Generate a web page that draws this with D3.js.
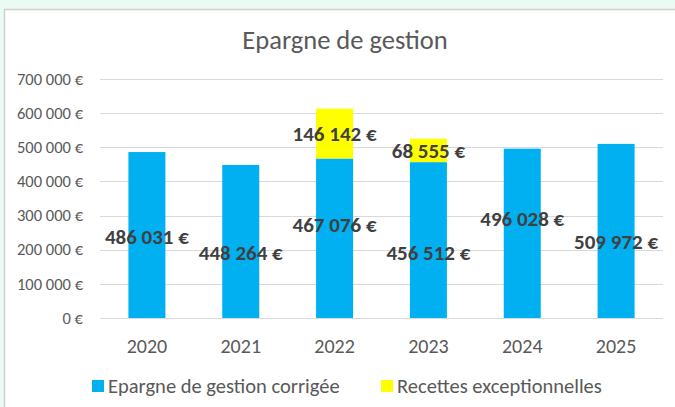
<!DOCTYPE html>
<html>
<head>
<meta charset="utf-8">
<script src="https://cdn.jsdelivr.net/npm/d3@7"></script>
<style>
  body { margin: 0; background: #e9fbf3; }
  svg { display: block; }
</style>
</head>
<body>
<svg id="chart" width="675" height="407"></svg>
<script>
// chart values
var years = ['2020', '2021', '2022', '2023', '2024', '2025'];
var epargneCorrigee = [486031, 448264, 467076, 456512, 496028, 509972];
var recettesExcept = [0, 0, 146142, 68555, 0, 0];
// where the base labels sit (in euros, as placed in the original)
var labelAt = [237000, 190000, 272000, 190000, 290000, 223000];
var yTicks = [0, 100000, 200000, 300000, 400000, 500000, 600000, 700000];
var seriesNames = ['Epargne de gestion corrigée', 'Recettes exceptionnelles'];
var seriesColors = ['#00b0f0', '#ffff00'];

var font = 'Carlito, Calibri, "Open Sans", sans-serif';

var svg = d3.select('#chart');

// white chart box
svg.append('rect')
    .attr('x', 4.5).attr('y', 9.5)
    .attr('width', 700).attr('height', 420)
    .attr('fill', '#ffffff')
    .attr('stroke', '#d0d0d0')
    .attr('stroke-width', 1.5);

svg.append('text')
    .attr('x', 345).attr('y', 49)
    .attr('text-anchor', 'middle')
    .attr('font-family', font)
    .attr('font-size', 26.5)
    .attr('fill', '#595959')
    .text('Epargne de gestion');

var x = d3.scaleBand().domain(years).range([100, 663]).paddingInner(0).paddingOuter(0);
var y = d3.scaleLinear().domain([0, 700000]).range([318, 79]);

var fmt = function (v) {
    return d3.format(',')(v).replace(/,/g, ' ') + ' €';
};

// gridlines
svg.append('g').selectAll('line')
    .data(yTicks)
    .join('line')
    .attr('x1', 100).attr('x2', 663)
    .attr('y1', d => Math.round(y(d)) + 0.5)
    .attr('y2', d => Math.round(y(d)) + 0.5)
    .attr('stroke', '#d9d9d9')
    .attr('stroke-width', 1);

// y axis labels
var yAxis = svg.append('g')
    .attr('transform', 'translate(100,0)')
    .call(d3.axisLeft(y).tickValues(yTicks).tickSize(0).tickPadding(17).tickFormat(fmt));
yAxis.select('.domain').remove();
yAxis.selectAll('text')
    .attr('font-family', font)
    .attr('font-size', 16.5)
    .attr('fill', '#595959');

// x axis labels
var xAxis = svg.append('g')
    .attr('transform', 'translate(0,318)')
    .call(d3.axisBottom(x).tickSize(0).tickPadding(21));
xAxis.select('.domain').remove();
xAxis.selectAll('text')
    .attr('y', 28)
    .attr('dy', '0.35em')
    .attr('font-family', font)
    .attr('font-size', 20)
    .attr('fill', '#595959');

var barW = 37;
var rows = years.map((yr, i) => ({ year: yr, base: epargneCorrigee[i], extra: recettesExcept[i], lab: labelAt[i] }));

// stacked bars
svg.append('g').selectAll('rect')
    .data(rows)
    .join('rect')
    .attr('x', d => x(d.year) + x.bandwidth() / 2 - barW / 2)
    .attr('y', d => y(d.base))
    .attr('width', barW)
    .attr('height', d => y(0) - y(d.base))
    .attr('fill', seriesColors[0]);

svg.append('g').selectAll('rect')
    .data(rows.filter(d => d.extra > 0))
    .join('rect')
    .attr('x', d => x(d.year) + x.bandwidth() / 2 - barW / 2)
    .attr('y', d => y(d.base + d.extra))
    .attr('width', barW)
    .attr('height', d => y(d.base) - y(d.base + d.extra))
    .attr('fill', seriesColors[1]);

// data labels
var labels = svg.append('g')
    .attr('font-family', font)
    .attr('font-size', 21)
    .attr('font-weight', 'bold')
    .attr('fill', '#404040')
    .attr('text-anchor', 'middle');

labels.selectAll('text.base')
    .data(rows)
    .join('text')
    .attr('class', 'base')
    .attr('x', d => x(d.year) + x.bandwidth() / 2)
    .attr('y', d => y(d.lab))
    .attr('dy', '0.35em')
    .text(d => fmt(d.base));

labels.selectAll('text.extra')
    .data(rows.filter(d => d.extra > 0))
    .join('text')
    .attr('class', 'extra')
    .attr('x', d => x(d.year) + x.bandwidth() / 2)
    .attr('y', d => y(d.base + d.extra / 2))
    .attr('dy', '0.35em')
    .text(d => fmt(d.extra));

// legend
var legendX = [92, 381];
var legend = svg.append('g').selectAll('g')
    .data(seriesNames)
    .join('g')
    .attr('transform', (d, i) => 'translate(' + legendX[i] + ',380)');
legend.append('rect')
    .attr('width', 12).attr('height', 12)
    .attr('fill', (d, i) => seriesColors[i]);
legend.append('text')
    .attr('x', 16).attr('y', 6)
    .attr('dy', '0.35em')
    .attr('font-family', font)
    .attr('font-size', 20.5)
    .attr('fill', '#595959')
    .text(d => d);
</script>
</body>
</html>
